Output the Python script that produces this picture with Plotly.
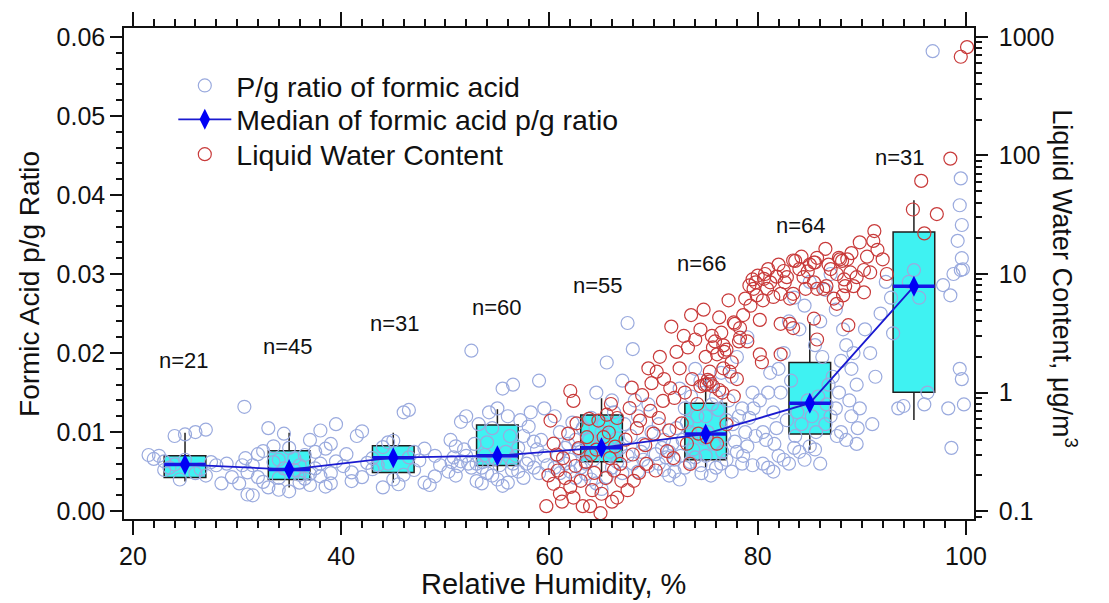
import plotly.graph_objects as go

# ---- P/g ratio of formic acid (RH %, ratio) ----
pg_points = [
    # 20-30 %
    (21.5, 0.0071), (22.5, 0.0070), (23.0, 0.0063), (23.5, 0.0055), (24.0, 0.0095),
    (25.0, 0.0097), (26.0, 0.0100), (27.0, 0.0103), (24.5, 0.0040), (26.0, 0.0048),
    (25.0, 0.0065), (23.0, 0.0052), (27.5, 0.0062), (28.0, 0.0058), (29.0, 0.0060),
    (28.5, 0.0035), (29.5, 0.0043), (22.0, 0.0066), (26.5, 0.0053), (24.0, 0.0059),
    (27.0, 0.0045),
    # 30-40 %
    (30.7, 0.0132), (31.0, 0.0021), (31.5, 0.0020), (30.2, 0.0035), (30.5, 0.0058),
    (31.0, 0.0049), (32.0, 0.0043), (32.5, 0.0037), (33.0, 0.0105), (33.5, 0.0082),
    (34.0, 0.0065), (34.5, 0.0098), (35.0, 0.0080), (35.5, 0.0052), (36.0, 0.0036),
    (36.5, 0.0041), (37.0, 0.0090), (37.5, 0.0075), (38.0, 0.0060), (38.5, 0.0031),
    (39.0, 0.0035), (39.5, 0.0063), (33.0, 0.0030), (34.0, 0.0027), (35.0, 0.0025),
    (36.0, 0.0046), (37.0, 0.0047), (38.0, 0.0044), (39.0, 0.0048), (31.5, 0.0058),
    (32.0, 0.0072), (32.5, 0.0076), (33.5, 0.0062), (34.5, 0.0054), (35.5, 0.0067),
    (36.5, 0.0071), (37.5, 0.0054), (38.5, 0.0079), (39.5, 0.0110), (38.0, 0.0102),
    (39.0, 0.0085), (36.0, 0.0058), (37.0, 0.0033), (34.0, 0.0042), (30.8, 0.0067),
    # 40-50 %
    (40.2, 0.0057), (40.5, 0.0072), (41.0, 0.0038), (41.5, 0.0095), (42.0, 0.0101),
    (42.5, 0.0061), (43.0, 0.0067), (43.5, 0.0058), (44.0, 0.0081), (44.5, 0.0087),
    (45.0, 0.0040), (45.5, 0.0034), (46.0, 0.0125), (46.5, 0.0128), (47.0, 0.0075),
    (47.5, 0.0064), (48.0, 0.0036), (48.5, 0.0033), (49.0, 0.0070), (49.5, 0.0058),
    (41.0, 0.0049), (42.0, 0.0043), (43.0, 0.0053), (44.0, 0.0030), (45.0, 0.0089),
    (46.0, 0.0046), (47.0, 0.0052), (48.0, 0.0079), (49.0, 0.0044), (44.5, 0.0060),
    (46.5, 0.0068),
    # 50-60 %
    (50.5, 0.0090), (51.0, 0.0082), (51.5, 0.0113), (52.0, 0.0120), (52.5, 0.0203),
    (53.0, 0.0060), (53.5, 0.0055), (54.0, 0.0087), (54.5, 0.0105), (55.0, 0.0130),
    (55.5, 0.0155), (56.0, 0.0120), (56.5, 0.0160), (57.0, 0.0080), (57.5, 0.0095),
    (58.0, 0.0107), (58.5, 0.0088), (59.0, 0.0165), (59.5, 0.0130), (50.3, 0.0050),
    (51.0, 0.0045), (51.5, 0.0063), (52.0, 0.0070), (52.5, 0.0055), (53.0, 0.0038),
    (53.5, 0.0035), (54.0, 0.0048), (54.5, 0.0045), (55.0, 0.0040), (55.5, 0.0032),
    (56.0, 0.0036), (56.5, 0.0060), (57.0, 0.0050), (57.5, 0.0042), (58.0, 0.0065),
    (58.5, 0.0055), (59.0, 0.0048), (59.5, 0.0070), (50.8, 0.0068), (51.8, 0.0078),
    (52.8, 0.0085), (53.8, 0.0071), (54.8, 0.0066), (55.8, 0.0075), (56.8, 0.0070),
    (57.8, 0.0060), (58.8, 0.0078), (59.8, 0.0058), (53.2, 0.0110), (54.2, 0.0125),
    (56.2, 0.0095), (57.2, 0.0115), (58.2, 0.0125), (55.2, 0.0058), (52.2, 0.0060),
    (50.6, 0.0062), (51.2, 0.0057), (53.6, 0.0062), (56.4, 0.0052), (59.2, 0.0090),
    # 60-70 %
    (60.5, 0.0120), (61.0, 0.0100), (61.5, 0.0080), (62.0, 0.0065), (62.5, 0.0090),
    (63.0, 0.0075), (63.5, 0.0060), (64.0, 0.0118), (64.5, 0.0150), (65.0, 0.0100),
    (65.5, 0.0188), (66.0, 0.0140), (66.5, 0.0092), (67.0, 0.0165), (67.5, 0.0238),
    (68.0, 0.0205), (68.5, 0.0120), (69.0, 0.0085), (69.5, 0.0135), (60.5, 0.0055),
    (61.0, 0.0048), (61.5, 0.0060), (62.0, 0.0050), (62.5, 0.0042), (63.0, 0.0055),
    (63.5, 0.0047), (64.0, 0.0040), (64.5, 0.0035), (65.0, 0.0028), (65.5, 0.0043),
    (66.0, 0.0055), (66.5, 0.0062), (67.0, 0.0048), (67.5, 0.0070), (68.0, 0.0060),
    (68.5, 0.0050), (69.0, 0.0065), (69.5, 0.0057), (60.8, 0.0070), (61.8, 0.0085),
    (62.8, 0.0078), (63.8, 0.0090), (64.8, 0.0082), (65.8, 0.0075), (66.8, 0.0080),
    (67.8, 0.0095), (68.8, 0.0075), (69.8, 0.0100), (64.2, 0.0065), (65.2, 0.0110),
    (66.2, 0.0125), (63.2, 0.0105), (67.2, 0.0110), (68.2, 0.0140), (62.2, 0.0112),
    # 70-80 %
    (70.5, 0.0110), (71.0, 0.0090), (71.5, 0.0075), (72.0, 0.0065), (72.5, 0.0155),
    (73.0, 0.0130), (73.5, 0.0100), (74.0, 0.0180), (74.5, 0.0165), (75.0, 0.0120),
    (75.5, 0.0160), (76.0, 0.0145), (76.5, 0.0175), (77.0, 0.0115), (77.5, 0.0170),
    (78.0, 0.0195), (78.5, 0.0130), (79.0, 0.0220), (79.5, 0.0150), (70.5, 0.0060),
    (71.0, 0.0052), (71.5, 0.0045), (72.0, 0.0050), (72.5, 0.0040), (73.0, 0.0055),
    (73.5, 0.0062), (74.0, 0.0068), (74.5, 0.0058), (75.0, 0.0070), (75.5, 0.0045),
    (76.0, 0.0055), (76.5, 0.0060), (77.0, 0.0065), (77.5, 0.0050), (78.0, 0.0075),
    (78.5, 0.0060), (79.0, 0.0082), (79.5, 0.0058), (70.8, 0.0080), (71.8, 0.0085),
    (72.8, 0.0090), (73.8, 0.0078), (74.8, 0.0092), (75.8, 0.0085), (76.8, 0.0095),
    (77.8, 0.0088), (78.8, 0.0100), (79.8, 0.0095), (70.2, 0.0072), (71.2, 0.0068),
    (72.2, 0.0105), (73.2, 0.0112), (74.2, 0.0120), (75.2, 0.0100), (76.2, 0.0128),
    (77.2, 0.0140), (78.2, 0.0120), (79.2, 0.0118), (73.6, 0.0145), (75.6, 0.0135),
    (77.6, 0.0110), (74.6, 0.0048), (76.6, 0.0075), (78.6, 0.0070), (79.6, 0.0130),
    (72.6, 0.0070),
    # 80-90 %
    (80.5, 0.0100), (81.0, 0.0150), (81.5, 0.0125), (82.0, 0.0180), (82.5, 0.0200),
    (83.0, 0.0240), (83.5, 0.0270), (84.0, 0.0230), (84.5, 0.0260), (85.0, 0.0290),
    (85.5, 0.0210), (86.0, 0.0240), (86.5, 0.0280), (87.0, 0.0300), (87.5, 0.0255),
    (88.0, 0.0190), (88.5, 0.0210), (89.0, 0.0180), (89.5, 0.0160), (80.5, 0.0060),
    (81.0, 0.0055), (81.5, 0.0050), (82.0, 0.0070), (82.5, 0.0065), (83.0, 0.0060),
    (83.5, 0.0080), (84.0, 0.0075), (84.5, 0.0065), (85.0, 0.0082), (85.5, 0.0078),
    (86.0, 0.0060), (86.5, 0.0110), (87.0, 0.0120), (87.5, 0.0130), (88.0, 0.0100),
    (88.5, 0.0090), (89.0, 0.0120), (89.5, 0.0085), (80.8, 0.0090), (81.8, 0.0105),
    (82.8, 0.0115), (83.8, 0.0125), (84.8, 0.0140), (85.8, 0.0145), (86.8, 0.0160),
    (87.8, 0.0150), (88.8, 0.0140), (89.8, 0.0130), (80.2, 0.0140), (81.2, 0.0175),
    (82.2, 0.0150), (83.2, 0.0165), (84.2, 0.0110), (85.2, 0.0120), (86.2, 0.0195),
    (87.2, 0.0170), (88.2, 0.0230), (89.2, 0.0200), (83.6, 0.0095), (85.6, 0.0100),
    (87.6, 0.0095), (89.6, 0.0105), (81.6, 0.0085), (86.6, 0.0135),
    # 90-100 %
    (90.3, 0.0230), (90.8, 0.0200), (91.3, 0.0170), (91.8, 0.0250), (92.3, 0.0290),
    (92.8, 0.0270), (93.5, 0.0130), (94.0, 0.0133), (94.5, 0.0290), (95.0, 0.0305),
    (95.5, 0.0270), (96.0, 0.0135), (96.3, 0.0150), (96.8, 0.0582), (97.8, 0.0286),
    (98.5, 0.0273), (98.3, 0.0130), (98.8, 0.0300), (99.2, 0.0342), (99.4, 0.0387),
    (99.6, 0.0362), (99.5, 0.0421), (99.7, 0.0306), (99.5, 0.0305), (99.6, 0.0320),
    (99.4, 0.0180), (99.6, 0.0167), (99.8, 0.0135), (98.6, 0.0080), (91.0, 0.0110),
    (93.0, 0.0225),
]

# ---- Liquid water content (RH %, ug/m3) ----
lwc_points = [
    # 59-63 %
    (59.7, 0.11), (60.1, 0.58), (60.4, 0.37), (60.4, 0.17), (60.8, 0.22), (61.0, 0.14),
    (61.3, 0.28), (61.5, 0.19), (61.8, 0.45), (62.0, 1.03), (62.3, 0.85), (62.3, 0.13),
    (62.5, 0.24), (62.8, 0.34), (62.0, 0.16), (61.2, 0.12), (60.7, 0.30), (59.9, 0.20),
    (62.6, 0.55), (63.0, 0.18),
    # 63-67 %
    (63.2, 0.11), (63.5, 0.26), (63.6, 0.42), (63.9, 0.11), (64.1, 0.15), (64.3, 0.21),
    (64.5, 0.33), (64.9, 0.096), (65.0, 0.14), (65.2, 0.42), (65.4, 0.19), (65.7, 0.46),
    (65.8, 0.28), (66.0, 0.12), (66.3, 0.35), (66.5, 0.61), (66.5, 0.13), (66.8, 0.25),
    (66.9, 0.18), (64.7, 0.58), (65.5, 0.65), (63.8, 0.60), (64.0, 0.30), (66.2, 0.22),
    (65.9, 0.80),
    # 67-71 %
    (67.3, 0.40), (67.7, 0.74), (67.5, 0.15), (68.0, 0.30), (68.1, 0.18), (68.4, 0.50),
    (68.7, 0.58), (68.9, 0.95), (69.2, 0.36), (69.3, 0.25), (69.7, 0.70), (69.8, 1.2),
    (70.0, 0.45), (70.3, 1.5), (70.5, 0.61), (70.6, 2.0), (70.9, 0.85), (70.2, 0.22),
    (68.6, 0.21), (67.9, 1.1), (69.5, 1.6), (71.0, 1.3),
    # 71-75 %
    (71.3, 0.32), (71.6, 1.09), (71.7, 3.6), (71.9, 0.28), (72.2, 2.2), (72.5, 1.6),
    (72.7, 0.55), (72.9, 3.0), (73.2, 0.37), (73.3, 2.4), (73.5, 0.25), (73.6, 4.5),
    (73.7, 1.3), (74.0, 2.8), (74.2, 0.8), (74.5, 1.13), (74.5, 3.4), (74.8, 5.0),
    (74.9, 1.16), (75.0, 2.0), (72.0, 0.9), (73.0, 1.0), (71.5, 0.48), (74.3, 0.45),
    # 75-78 %
    (75.1, 0.42), (75.1, 1.17), (75.2, 1.28), (75.4, 1.5), (75.4, 1.24), (75.6, 3.0),
    (75.7, 2.4), (75.7, 1.13), (75.9, 2.7), (76.1, 0.37), (76.1, 2.1), (76.3, 1.05),
    (76.5, 3.2), (76.6, 1.0), (76.7, 1.6), (76.7, 2.5), (76.8, 2.2), (77.0, 0.54),
    (77.0, 2.3), (77.3, 1.5), (77.5, 1.8), (77.7, 3.9), (77.7, 0.93), (77.8, 3.8),
    (78.0, 1.3), (77.2, 6.0), (76.3, 4.3),
    # 78-81 %
    (78.2, 2.7), (78.3, 2.9), (78.3, 3.5), (78.6, 4.5), (79.0, 2.7), (79.3, 5.4),
    (79.6, 7.5), (79.9, 6.6), (79.2, 8.0), (79.5, 9.0), (80.0, 9.7), (80.2, 4.1),
    (80.2, 2.1), (80.4, 1.8), (80.6, 9.1), (80.7, 10.0), (80.9, 7.5), (80.5, 6.0),
    (79.8, 8.5), (78.8, 6.2),
    # 81-86 %
    (81.2, 8.5), (81.5, 6.4), (81.8, 9.5), (82.2, 6.8), (82.2, 3.8), (82.2, 2.1),
    (82.5, 10.6), (82.6, 8.5), (82.8, 9.4), (83.1, 6.2), (83.1, 3.8), (83.4, 6.8),
    (83.4, 3.5), (83.4, 13.0), (83.6, 12.9), (84.0, 11.0), (84.4, 9.4), (84.6, 7.5),
    (84.8, 10.5), (85.0, 12.0), (85.4, 8.5), (85.4, 12.5), (85.4, 4.2), (85.5, 12.5),
    (85.7, 13.7), (85.7, 7.5), (85.7, 2.8), (81.0, 11.0), (82.0, 12.0), (84.2, 14.0),
    # 86-90 %
    (86.3, 7.5), (86.5, 16.3), (86.6, 7.9), (87.0, 11.0), (87.3, 6.2), (87.6, 10.0),
    (87.6, 5.6), (87.8, 13.7), (87.9, 13.3), (88.1, 12.9), (88.2, 6.6), (88.4, 7.9),
    (88.6, 13.3), (88.7, 3.7), (88.9, 10.3), (89.2, 7.9), (89.5, 9.4), (89.8, 18.5),
    (89.0, 15.0), (86.8, 12.0), (88.3, 9.0),
    # 90-100 %
    (90.2, 10.8), (90.2, 7.0), (90.8, 10.3), (91.1, 19.0), (91.2, 23.0), (92.0, 13.3),
    (92.4, 10.0), (90.5, 14.0), (91.5, 16.0),
    (94.9, 35.0), (95.7, 61.0), (96.0, 22.0), (97.2, 32.0), (98.5, 94.0),
    (99.5, 680.0), (100.1, 820.0),
]

# ---- per-bin box statistics of the p/g ratio ----
bin_center = [25, 35, 45, 55, 65, 75, 85, 95]
bin_count = [21, 45, 31, 60, 55, 66, 64, 31]
q1 = [0.00426, 0.00401, 0.00489, 0.00576, 0.00626, 0.00651, 0.00977, 0.01503]
median = [0.00589, 0.00526, 0.00676, 0.00701, 0.00802, 0.00977, 0.01365, 0.02844]
q3 = [0.00701, 0.00764, 0.00827, 0.01090, 0.01215, 0.01365, 0.01879, 0.03532]
lower_whisker = [0.00376, 0.00300, 0.00363, 0.00489, 0.00438, 0.00551, 0.00777, 0.01152]
upper_whisker = [0.00990, 0.00990, 0.00990, 0.01290, 0.01428, 0.01716, 0.02393, 0.03933]

# n= labels (RH position, ratio height)
label_x = [24.9, 34.9, 45.2, 55.0, 64.7, 74.6, 84.2, 93.7]
label_y = [0.0190, 0.0208, 0.0237, 0.0258, 0.0286, 0.0313, 0.0362, 0.0448]

lwc_tickvals = [0.1, 1, 10, 100, 1000]
lwc_ticktext = ["0.1", "1", "10", "100", "1000"]

BOX_WIDTH = 4
FONT = "Arial, Liberation Sans, sans-serif"
INK = "#111111"
Y_RANGE = [-0.001, 0.06113]

fig = go.Figure()

# boxes
fig.add_trace(go.Box(
    x=bin_center, q1=q1, median=median, q3=q3,
    lowerfence=lower_whisker, upperfence=upper_whisker,
    width=BOX_WIDTH, whiskerwidth=0, fillcolor="#3ff2f2",
    line=dict(color="#1e1e1e", width=1.5), boxpoints=False,
    showlegend=False, hoverinfo="skip", xaxis="x", yaxis="y",
))

# p/g ratio scatter
fig.add_trace(go.Scatter(
    x=[p[0] for p in pg_points], y=[p[1] for p in pg_points],
    mode="markers", name="P/g ratio of formic acid",
    marker=dict(symbol="circle-open", size=13, color="#9aaade", line=dict(width=1.2)),
    xaxis="x", yaxis="y", legend="legend",
))

# liquid water content on the right log axis
fig.add_trace(go.Scatter(
    x=[p[0] for p in lwc_points], y=[p[1] for p in lwc_points],
    mode="markers", name="Liquid Water Content",
    marker=dict(symbol="circle-open", size=13, color="#c83a3a", line=dict(width=1.2)),
    xaxis="x", yaxis="y2", legend="legend3",
))

# thick median bars inside each box
bar_x, bar_y = [], []
for c, m in zip(bin_center, median):
    bar_x += [c - BOX_WIDTH / 2, c + BOX_WIDTH / 2, None]
    bar_y += [m, m, None]
fig.add_trace(go.Scatter(
    x=bar_x, y=bar_y, mode="lines", line=dict(color="#1414e6", width=3.5),
    showlegend=False, hoverinfo="skip", xaxis="x", yaxis="y3",
))

# median trend line
fig.add_trace(go.Scatter(
    x=bin_center, y=median, mode="lines+markers",
    name="Median of formic acid p/g ratio",
    line=dict(color="#1a1ad0", width=1.8),
    marker=dict(symbol="diamond-tall", size=15, color="#0000f5"),
    xaxis="x", yaxis="y3", legend="legend2",
))

# n= annotations
for lx, ly, n in zip(label_x, label_y, bin_count):
    fig.add_annotation(
        x=lx, y=ly, xref="x", yref="y", text=f"n={n}", showarrow=False,
        font=dict(size=22, color=INK, family=FONT),
    )

# axis titles
fig.add_annotation(
    x=0.505, y=-0.132, xref="paper", yref="paper", text="Relative Humidity, %",
    showarrow=False, font=dict(size=29, color=INK, family=FONT),
    xanchor="center", yanchor="middle",
)
fig.add_annotation(
    x=-0.111, y=0.478, xref="paper", yref="paper", text="Formic Acid p/g Ratio",
    showarrow=False, textangle=-90, font=dict(size=28, color=INK, family=FONT),
    xanchor="center", yanchor="middle",
)
fig.add_annotation(
    x=1.106, y=0.49, xref="paper", yref="paper",
    text="Liquid Water Content, μg/m<sup>3</sup>",
    showarrow=False, textangle=90, font=dict(size=27, color=INK, family=FONT),
    xanchor="center", yanchor="middle",
)

axis_common = dict(
    showgrid=False, zeroline=False, showline=True, linecolor=INK, linewidth=1.5,
    ticks="outside", tickcolor=INK, tickwidth=1.5,
    tickfont=dict(size=25, color=INK, family=FONT),
)

legend_common = dict(
    x=0.058, xanchor="left", yanchor="middle", bgcolor="rgba(0,0,0,0)",
    font=dict(size=28.5, color=INK, family=FONT), itemwidth=53,
)

fig.update_layout(
    width=1109, height=603,
    margin=dict(l=124, r=135, t=23, b=84),
    paper_bgcolor="white", plot_bgcolor="white",
    font=dict(family=FONT, color=INK),
    showlegend=True,
    legend=dict(y=0.882, **legend_common),
    legend2=dict(y=0.813, **legend_common),
    legend3=dict(y=0.742, **legend_common),
    xaxis=dict(
        range=[19.14, 100.77], dtick=20, tick0=0, ticklen=14, mirror="ticks",
        minor=dict(ticks="outside", ticklen=7, dtick=2, tickcolor=INK, tickwidth=1.5),
        **axis_common,
    ),
    yaxis=dict(
        range=Y_RANGE, dtick=0.01, tick0=0, tickformat=".2f", ticklen=12,
        minor=dict(ticks="outside", ticklen=6, dtick=0.002, tickcolor=INK, tickwidth=1.5),
        **axis_common,
    ),
    yaxis2=dict(
        type="log", range=[-1.0668, 3.075], overlaying="y", side="right", anchor="x",
        tickvals=lwc_tickvals, ticktext=lwc_ticktext, ticklen=12, ticklabelstandoff=6,
        minor=dict(ticks="outside", ticklen=6, tickcolor=INK, tickwidth=1.5, dtick="D1"),
        **axis_common,
    ),
    yaxis3=dict(range=Y_RANGE, overlaying="y", visible=False),
)

fig.write_html("out.html")
